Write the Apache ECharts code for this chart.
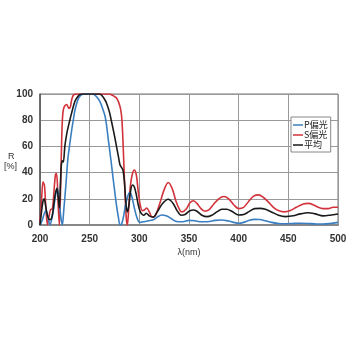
<!DOCTYPE html>
<html><head><meta charset="utf-8">
<script src="https://cdn.jsdelivr.net/npm/echarts@6/dist/echarts.min.js"></script>
<style>html,body{margin:0;padding:0;background:#fff}#c{width:350px;height:350px}</style>
</head><body><div id="c"></div>
<script>
var seriesNames = ['P偏光', 'S偏光', '平均'];
var xTicks = [200, 250, 300, 350, 400, 450, 500];
var yTicks = [0, 20, 40, 60, 80, 100];

var pPolar = [[200,0],[202,3],[204,8],[206,11],[208,6],[210,0],[212,5],[214,14],[216,24],[217.5,28],[219,20],[221,6],[222.5,0],[224,12],[226,30],[228,50],[230,62],[232,73],[233.5,80],[235,87],[237,93],[239,97],[242,99.5],[245,100],[253,100],[255.5,99],[258,97],[260.5,94],[263,89],[265.5,83],[267,76],[268.8,65],[270.5,55],[272.2,44.6],[274,33],[275.5,24],[277,15],[278.9,6],[280.6,0],[282,0.5],[284,6],[286,15],[288,21],[290,24.5],[291.5,24],[293,20],[295,13],[297,7],[299,3],[301,2],[304,2.5],[308,3],[314,4],[318,6],[322.5,7.6],[327,7],[332,5],[336,3],[339,2.5],[344,2.5],[350,3.5],[356,3.3],[362,2.5],[369,2.5],[376,3.5],[383,3.8],[390,3],[395,2],[400,1.3],[405,2],[410,3.5],[416,4.3],[421,4.2],[427,3.2],[433,2],[440,1.2],[447,1],[455,1.2],[462,1.3],[470,1.2],[478,0.8],[485,0.8],[492,1.2],[500,2]];

var sPolar = [[200,2],[201.5,18],[203,33],[204.5,30],[206,12],[207.5,0],[209,6],[210.5,11.5],[212.5,12.5],[214,25],[215.5,38],[216.5,39.5],[217.5,32],[218.5,12],[219.5,0],[220.5,20],[221.5,55],[222.5,80],[223.5,88],[225,91],[227,92],[229,89],[230.5,90],[232,96],[234,99.5],[237,100],[270,100],[273,99],[275,98],[277,97],[279,94],[281,89],[282.5,80],[284,55],[285.5,25],[287,4],[288,0],[289.5,15],[291,30],[293,39],[295,42],[297,38],[299,25],[301,15],[303,11],[305,11.5],[307.5,13],[310,10],[313,6],[316,7],[320,15],[325,27],[329,32.5],[333,28],[337,18],[341,11],[343,10],[347,12],[351,17],[354.5,18.5],[358,16.5],[362,12.5],[366,10.5],[370,11.5],[375,16],[380,20],[385,21.7],[390,20],[395,15.5],[400,12.5],[405,13.5],[410,18],[415,22],[420,23],[425,21],[430,17.5],[435,13.5],[440,11],[446,10],[452,11],[458,13.5],[465,16],[470,16.5],[475,15.5],[480,13.5],[485,12.5],[490,12.5],[495,13.5],[500,13.5]];

var average = [[200,0],[201.5,10],[203,18],[204.3,20],[206,13],[208,6],[210,4],[211.5,5],[213,10],[215,22],[217,28],[218.5,20],[219.5,13],[220.5,30],[221.5,46],[222.5,49],[223.5,48],[225,60],[227,70],[230,80],[232,86],[235,94],[237,97],[240,99.5],[243,100],[260,100],[262,99],[265,96],[267,93],[270,86],[272,79],[275,68],[277,60],[279,52],[280.5,46],[282,44],[283.5,42],[285,33],[286,22],[287,13],[288,10],[289.5,15],[291,25],[293,30.5],[295,29],[297,23],[299,15],[301,10],[303,8],[304.5,7.5],[307,9],[310,7],[314,6],[318,10],[323,16],[329,19.6],[334,16.5],[338,11],[342,7.5],[346,8],[350,10.5],[354.5,11.5],[358,10.5],[363,7.5],[368,6.4],[373,7.5],[378,10],[383,12],[388,12],[393,10.5],[400,7.6],[405,8],[410,10],[416,12.5],[421.5,12.7],[427,12],[433,10],[440,7.5],[447,6.4],[455,7],[462,8.5],[470,9.4],[477,8.5],[485,7],[492,7.5],[500,8.4]];

var colors = ['#3a7fc1', '#d2323a', '#1a1a1a'];
var chart = echarts.init(document.getElementById('c'), null, {renderer: 'canvas'});
var labelStyle = {color: '#333', fontSize: 10, fontWeight: 'bold', fontFamily: 'Liberation Sans, Arial, sans-serif'};
chart.setOption({
  animation: false,
  backgroundColor: '#fff',
  grid: {left: 40, right: 12, top: 94, bottom: 125, show: true, borderColor: '#777', borderWidth: 1},
  xAxis: {
    type: 'value', min: xTicks[0], max: xTicks[xTicks.length-1], interval: 50,
    name: 'λ(nm)', nameLocation: 'middle', nameGap: 23,
    nameTextStyle: {color: '#333', fontSize: 9, fontFamily: 'Liberation Sans, Arial, sans-serif'},
    axisLine: {lineStyle: {color: '#888', width: 2}},
    axisTick: {show: false},
    axisLabel: Object.assign({margin: 9}, labelStyle),
    splitLine: {lineStyle: {color: '#999', width: 1}}
  },
  yAxis: {
    type: 'value', min: yTicks[0], max: yTicks[yTicks.length-1], interval: 20,
    axisLine: {show: true, lineStyle: {color: '#555', width: 1.5}},
    axisTick: {show: false},
    axisLabel: Object.assign({margin: 7}, labelStyle),
    splitLine: {lineStyle: {color: '#999', width: 1}}
  },
  legend: {
    data: seriesNames, orient: 'vertical', left: 291, top: 117,
    icon: 'rect', itemWidth: 10, itemHeight: 1.5, itemGap: 0,
    padding: [3, 3, 2, 2], backgroundColor: '#fff', borderColor: '#888', borderWidth: 1,
    textStyle: {color: '#222', fontSize: 9, lineHeight: 10, padding: [0,0,0,-4], fontFamily: 'Noto Sans CJK JP, sans-serif'}
  },
  graphic: [
    {type: 'text', left: 8, top: 152, style: {text: 'R', fill: '#333', fontSize: 9, fontFamily: 'Liberation Sans, Arial, sans-serif'}},
    {type: 'text', left: 4, top: 162, style: {text: '[%]', fill: '#333', fontSize: 9, fontFamily: 'Liberation Sans, Arial, sans-serif'}}
  ],
  series: [
    {name: seriesNames[0], type: 'line', data: pPolar, smooth: 0.3, showSymbol: false, z: 3, lineStyle: {color: colors[0], width: 1.6}, itemStyle: {color: colors[0]}},
    {name: seriesNames[1], type: 'line', data: sPolar, smooth: 0.3, showSymbol: false, z: 2, lineStyle: {color: colors[1], width: 1.6}, itemStyle: {color: colors[1]}},
    {name: seriesNames[2], type: 'line', data: average, smooth: 0.3, showSymbol: false, z: 4, lineStyle: {color: colors[2], width: 1.6}, itemStyle: {color: colors[2]}}
  ]
});
</script></body></html>
